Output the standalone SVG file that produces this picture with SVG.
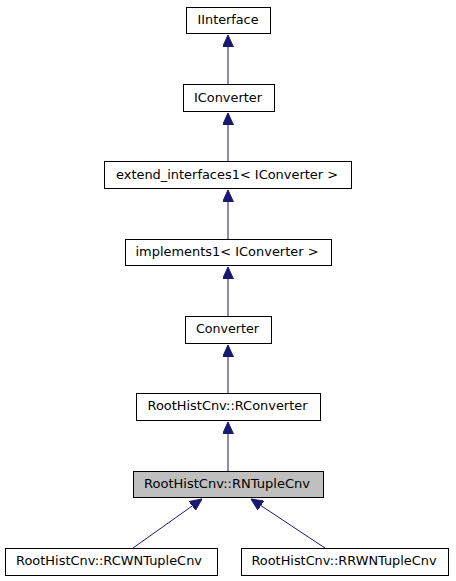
<svg xmlns="http://www.w3.org/2000/svg" width="456" height="581" viewBox="0 0 456 581">
<style>
.box{fill:#fff;stroke:#000;stroke-width:1}
.hl{fill:#bfbfbf;stroke:#000;stroke-width:1}
text{font-family:"DejaVu Sans","Liberation Sans",sans-serif;font-size:12px;fill:#000;text-anchor:middle}
.edge{stroke:#191970;stroke-width:1;fill:none}
</style>
<defs>
<marker id="tri" viewBox="0 0 12 11" refX="12" refY="5.5" markerWidth="12" markerHeight="11" markerUnits="userSpaceOnUse" orient="auto">
<path d="M0,0 L12,5.5 L0,11 z" fill="#191970" stroke="#191970"/>
</marker>
</defs>
<rect width="456" height="581" fill="#fff"/>
<g id="connectors">
<line class="edge" x1="228" y1="84" x2="228" y2="35" marker-end="url(#tri)"/>
<line class="edge" x1="228" y1="161" x2="228" y2="113" marker-end="url(#tri)"/>
<line class="edge" x1="228" y1="239" x2="228" y2="190" marker-end="url(#tri)"/>
<line class="edge" x1="228" y1="316" x2="228" y2="267" marker-end="url(#tri)"/>
<line class="edge" x1="228" y1="393" x2="228" y2="345" marker-end="url(#tri)"/>
<line class="edge" x1="228" y1="472" x2="228" y2="422" marker-end="url(#tri)"/>
<line class="edge" x1="133" y1="548" x2="202" y2="499" marker-end="url(#tri)"/>
<line class="edge" x1="325" y1="548" x2="251" y2="499" marker-end="url(#tri)"/>
</g>
<g id="IInterface"><rect class="box" x="186.5" y="7.5" width="84" height="26"/><text x="228" y="24" textLength="61" lengthAdjust="spacingAndGlyphs">IInterface</text></g>
<g id="IConverter"><rect class="box" x="183.5" y="84.5" width="91" height="27"/><text x="228" y="102" textLength="68" lengthAdjust="spacingAndGlyphs">IConverter</text></g>
<g id="extend_interfaces1"><rect class="box" x="104.5" y="161.5" width="247" height="27"/><text x="227" y="179" textLength="222" lengthAdjust="spacingAndGlyphs">extend_interfaces1&lt; IConverter &gt;</text></g>
<g id="implements1"><rect class="box" x="125.5" y="239.5" width="206" height="26"/><text x="227" y="256" textLength="183" lengthAdjust="spacingAndGlyphs">implements1&lt; IConverter &gt;</text></g>
<g id="Converter"><rect class="box" x="185.5" y="316.5" width="86" height="27"/><text x="227.5" y="333" textLength="63" lengthAdjust="spacingAndGlyphs">Converter</text></g>
<g id="RConverter"><rect class="box" x="136.5" y="393.5" width="184" height="27"/><text x="227.5" y="410" textLength="160" lengthAdjust="spacingAndGlyphs">RootHistCnv::RConverter</text></g>
<g id="RNTupleCnv"><rect class="hl" x="133.5" y="471.5" width="190" height="26"/><text x="227" y="488" textLength="166" lengthAdjust="spacingAndGlyphs">RootHistCnv::RNTupleCnv</text></g>
<g id="RCWNTupleCnv"><rect class="box" x="5.5" y="548.5" width="212" height="27"/><text x="109" y="565" textLength="186" lengthAdjust="spacingAndGlyphs">RootHistCnv::RCWNTupleCnv</text></g>
<g id="RRWNTupleCnv"><rect class="box" x="241.5" y="548.5" width="207" height="27"/><text x="344" y="565" textLength="185" lengthAdjust="spacingAndGlyphs">RootHistCnv::RRWNTupleCnv</text></g>
</svg>
